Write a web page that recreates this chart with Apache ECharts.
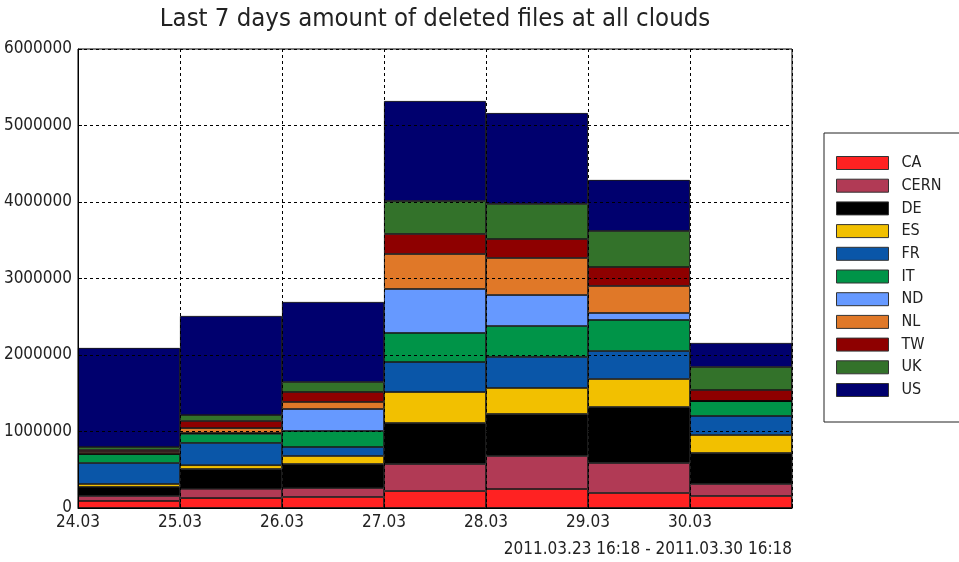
<!DOCTYPE html>
<html>
<head>
<meta charset="utf-8">
<script src="https://cdn.jsdelivr.net/npm/echarts@6/dist/echarts.min.js"></script>
<style>
  html, body { margin: 0; padding: 0; background: #fff; }
  #chart { width: 959px; height: 562px; }
</style>
</head>
<body>
<div id="chart"></div>
<script>
// days of the bars, and labels put on the bar edges
const days = ['24.03', '25.03', '26.03', '27.03', '28.03', '29.03', '30.03']
const edgeLabels = ['24.03', '25.03', '26.03', '27.03', '28.03', '29.03', '30.03', '']
const clouds = ['CA', 'CERN', 'DE', 'ES', 'FR', 'IT', 'ND', 'NL', 'TW', 'UK', 'US']

// deleted files per day, per cloud
const CA = [92000, 130000, 144000, 222000, 248000, 196000, 157000]
const CERN = [65000, 120000, 117000, 353000, 432000, 392000, 157000]
const DE = [118000, 260000, 314000, 536000, 549000, 732000, 405000]
const ES = [39000, 50000, 105000, 405000, 340000, 366000, 235000]
const FR = [274000, 290000, 117000, 392000, 405000, 366000, 249000]
const IT = [118000, 120000, 210000, 380000, 405000, 406000, 196000]
const ND = [0, 10000, 287000, 575000, 405000, 91000, 0]
const NL = [26000, 65000, 92000, 457000, 484000, 353000, 0]
const TW = [26000, 92000, 130000, 262000, 248000, 248000, 143000]
const UK = [39000, 78000, 131000, 431000, 458000, 471000, 301000]
const US = [1295000, 1295000, 1046000, 1307000, 1189000, 667000, 314000]

const yTicks = { min: 0, max: 6000000, interval: 1000000 }
const subtitle = '2011.03.23 16:18 - 2011.03.30 16:18'

const values = [CA, CERN, DE, ES, FR, IT, ND, NL, TW, UK, US]
const colours = ['#ff2222', '#b13a55', '#000000', '#f2c000', '#0a56a8', '#009448',
  '#6699ff', '#e07828', '#8e0000', '#33722a', '#00006e']

const font = 'DejaVu Sans Condensed, DejaVu Sans, sans-serif'
const chart = echarts.init(document.getElementById('chart'))

const option = {
  animation: false,
  color: colours,
  textStyle: { fontFamily: font },
  graphic: [
    {
      type: 'text',
      x: 435,
      y: 6,
      style: {
        text: 'Last 7 days amount of deleted files at all clouds',
        font: '25.5px ' + font,
        fill: '#222',
        textAlign: 'center'
      }
    },
    {
      type: 'text',
      x: 792,
      y: 541,
      style: {
        text: subtitle,
        font: '17px ' + font,
        fill: '#222',
        textAlign: 'right'
      }
    }
  ],
  grid: {
    left: 78,
    right: 167,
    top: 49,
    bottom: 54,
    outerBoundsMode: 'none',
    containLabel: false,
    show: true,
    borderColor: '#000',
    borderWidth: 1,
    backgroundColor: '#fff'
  },
  legend: {
    orient: 'vertical',
    left: 824,
    top: 133,
    data: clouds,
    itemWidth: 52,
    itemHeight: 13,
    itemGap: 6.7,
    padding: [22, 80, 24, 12],
    backgroundColor: '#fff',
    borderColor: '#222',
    borderWidth: 1,
    borderRadius: 0,
    icon: 'rect',
    itemStyle: { borderColor: '#333', borderWidth: 1 },
    textStyle: { fontFamily: font, fontSize: 16, color: '#222', padding: [0, 0, 0, 8] }
  },
  xAxis: [
    {
      type: 'category',
      data: days,
      boundaryGap: true,
      show: false
    },
    {
      type: 'category',
      data: edgeLabels,
      boundaryGap: false,
      position: 'bottom',
      z: 5,
      axisLine: { show: true, lineStyle: { color: '#000' } },
      axisTick: { show: true, inside: true, length: 4, interval: 0, lineStyle: { color: '#000' } },
      axisLabel: { interval: 0, margin: 6, fontSize: 17, color: '#222', fontFamily: font },
      splitLine: { show: true, interval: 0, lineStyle: { color: '#000', type: [3, 3], width: 1 } }
    }
  ],
  yAxis: {
    type: 'value',
    min: yTicks.min,
    max: yTicks.max,
    interval: yTicks.interval,
    z: 5,
    axisLine: { show: true, lineStyle: { color: '#000' } },
    axisTick: { show: true, inside: true, length: 4, lineStyle: { color: '#000' } },
    axisLabel: { margin: 6, fontSize: 17, color: '#222', fontFamily: font, formatter: v => String(v) },
    splitLine: { show: true, lineStyle: { color: '#000', type: [3, 3], width: 1 } }
  },
  series: clouds.map((name, i) => ({
    name,
    type: 'bar',
    stack: 'all',
    xAxisIndex: 0,
    data: values[i],
    barWidth: '100%',
    barCategoryGap: '0%',
    itemStyle: { borderColor: '#000', borderWidth: 0.8 }
  }))
}

chart.setOption(option)
</script>
</body>
</html>
